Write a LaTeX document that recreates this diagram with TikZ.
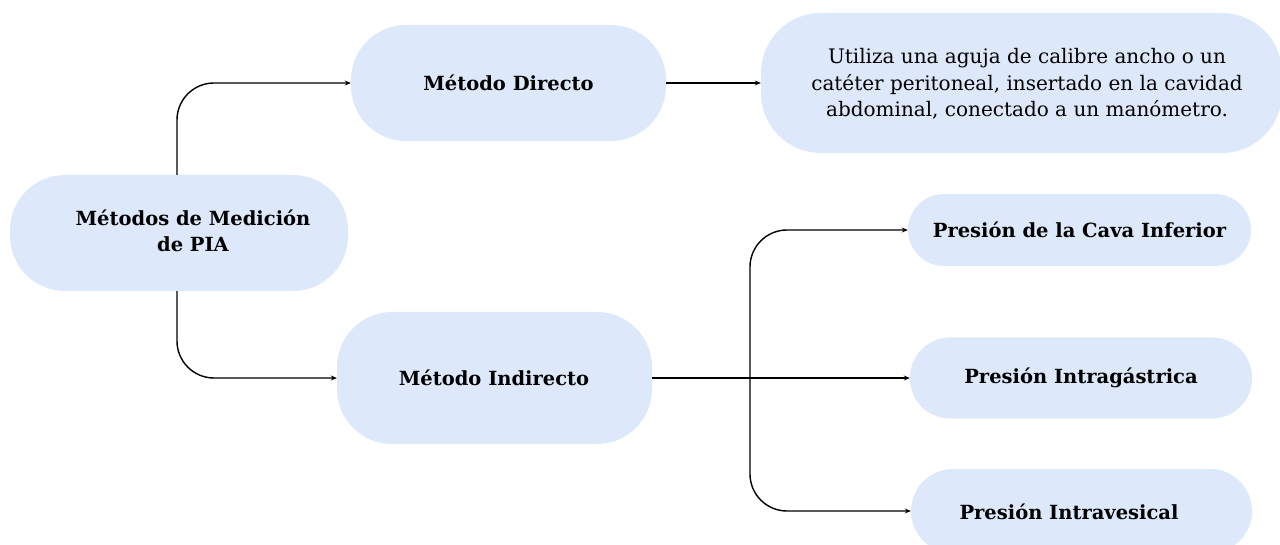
\documentclass[tikz,border=0pt]{standalone}
\usepackage{fontspec}
\setmainfont{DejaVu Serif}
\usetikzlibrary{arrows.meta}
\definecolor{boxblue}{HTML}{DDE9FA}
\tikzset{
  box/.style={fill=boxblue, draw=none, rounded corners=#1, inner sep=0pt},
  box/.default=55pt,
  lbl/.style={font=\fontsize{19.5}{26}\selectfont\bfseries, align=center, inner sep=0pt},
  desc/.style={font=\fontsize{20}{26.5}\selectfont, align=center, inner sep=0pt},
  conn/.style={line width=1.4pt, black, rounded corners=37pt, -{Stealth[length=6pt,width=5pt]}},
}
\begin{document}
\begin{tikzpicture}[x=1pt,y=-1pt]
\useasboundingbox (0,0) rectangle (1280,545);
\clip (0,0) rectangle (1280,545);
% boxes
\node[box, minimum width=338pt, minimum height=116pt] (root) at (179,233) {};
\node[lbl] (roottxt) at (193,231) {Métodos de Medición\\de PIA};
\node[box, minimum width=315pt, minimum height=116pt] (dir) at (508.5,83) {};
\node[lbl] (dirtxt) at (dir) {Método Directo};
\node[box=60pt, minimum width=521pt, minimum height=140pt] (desc) at (1021.5,83) {};
\node[desc] (desctxt) at (1027,84) {Utiliza una aguja de calibre ancho o un\\catéter peritoneal, insertado en la cavidad\\abdominal, conectado a un manómetro.};
\node[box, minimum width=315pt, minimum height=132pt] (ind) at (494.5,378) {};
\node[lbl] (indtxt) at (494,378) {Método Indirecto};
\node[box=36pt, minimum width=343pt, minimum height=72pt] (cava) at (1079.5,230) {};
\node[lbl] (cavatxt) at (cava) {Presión de la Cava Inferior};
\node[box=40pt, minimum width=342pt, minimum height=81pt] (gas) at (1081,378) {};
\node[lbl] (gastxt) at (gas) {Presión Intragástrica};
\node[box=42pt, minimum width=341pt, minimum height=84pt] (ves) at (1081.5,511) {};
\node[lbl] (vestxt) at (1069,512) {Presión Intravesical};
% connectors
\coordinate (split) at (750,378);
\draw[conn] ([xshift=-2pt]root.north) |- (dir.west);
\draw[conn] ([xshift=-2pt]root.south) |- (ind.west);
\draw[conn, rounded corners=0pt] (dir.east) -- (desc.west);
\draw[conn, rounded corners=0pt] (ind.east) -- (gas.west);
\draw[conn] (split) |- (cava.west);
\draw[conn] (split) |- (ves.west);
\end{tikzpicture}
\end{document}
